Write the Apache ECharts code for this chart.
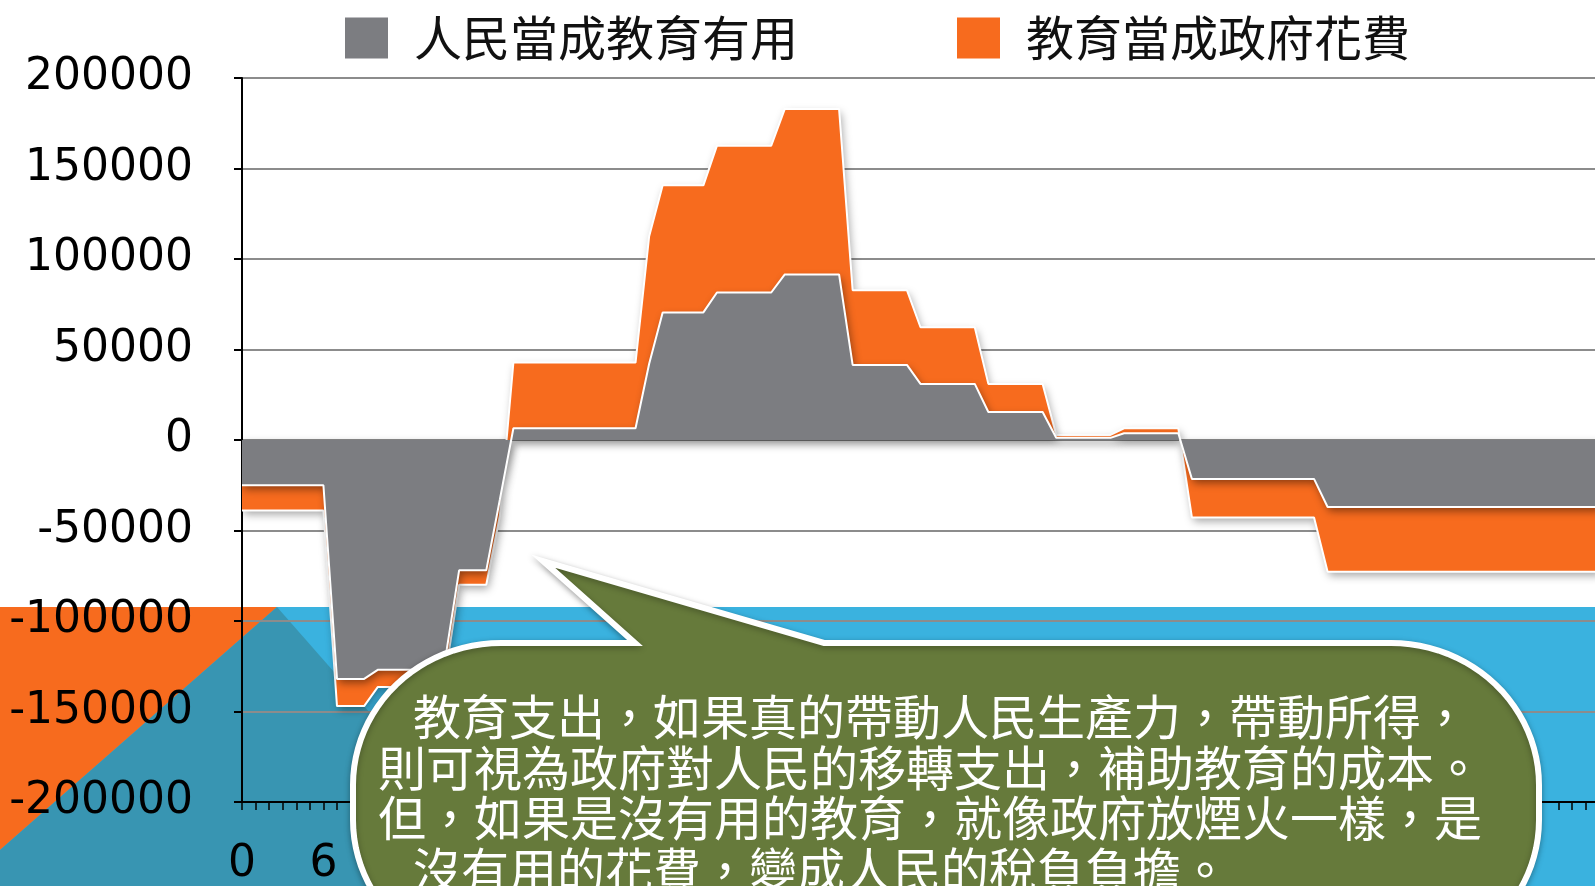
<!DOCTYPE html>
<html>
<head>
<meta charset="utf-8">
<script src="https://cdn.jsdelivr.net/npm/echarts@6/dist/echarts.min.js"></script>
<style>
html,body{margin:0;padding:0;background:#fff;}
#c{width:1595px;height:886px;}
</style>
</head>
<body>
<div id="c"></div>
<script>
// ---- data ----
const ages = ['0','1','2','3','4','5','6','7','8','9','10','11','12','13','14','15','16','17','18','19','20',
  '21','22','23','24','25','26','27','28','29','30','31','32','33','34','35','36','37','38','39','40',
  '41','42','43','44','45','46','47','48','49','50','51','52','53','54','55','56','57','58','59','60',
  '61','62','63','64','65','66','67','68','69','70','71','72','73','74','75','76','77','78','79','80',
  '81','82','83','84','85','86','87','88','89','90','91','92','93','94','95','96','97','98','99','100'];

const seriesNames = ['人民當成教育有用', '教育當成政府花費'];

// 人民當成教育有用 (ages 0..100)
const usefulValues = [
  -25000,-25000,-25000,-25000,-25000,-25000,-25000,
  -132000,-132000,-132000,
  -127000,-127000,-127000,-127000,-127000,
  -120000,
  -72000,-72000,-72000,
  -33000,
  6500,6500,6500,6500,6500,6500,6500,6500,6500,6500,
  42000,
  70500,70500,70500,70500,
  81500,81500,81500,81500,81500,
  91500,91500,91500,91500,91500,
  41500,41500,41500,41500,41500,
  31000,31000,31000,31000,31000,
  15500,15500,15500,15500,15500,
  1200,1200,1200,1200,1200,
  3700,3700,3700,3700,3700,
  -21500,-21500,-21500,-21500,-21500,-21500,-21500,-21500,-21500,-21500,
  -37000,-37000,-37000,-37000,-37000,-37000,-37000,-37000,-37000,-37000,-37000,
  -37000,-37000,-37000,-37000,-37000,-37000,-37000,-37000,-37000,-37000
];

// 教育當成政府花費 (ages 0..100)
const spendingValues = [
  -14000,-14000,-14000,-14000,-14000,-14000,-14000,
  -15000,-15000,-15000,
  -9500,-9500,-9500,-9500,-9500,
  -9000,
  -8000,-8000,-8000,
  -9000,
  36300,36300,36300,36300,36300,36300,36300,36300,36300,36300,
  70400,
  70200,70200,70200,70200,
  81100,81100,81100,81100,81100,
  91400,91400,91400,91400,91400,
  41300,41300,41300,41300,41300,
  31300,31300,31300,31300,31300,
  15500,15500,15500,15500,15500,
  1600,1600,1600,1600,1600,
  2800,2800,2800,2800,2800,
  -21300,-21300,-21300,-21300,-21300,-21300,-21300,-21300,-21300,-21300,
  -35800,-35800,-35800,-35800,-35800,-35800,-35800,-35800,-35800,-35800,-35800,
  -35800,-35800,-35800,-35800,-35800,-35800,-35800,-35800,-35800,-35800
];

const noteLines = [
  '教育支出，如果真的帶動人民生產力，帶動所得，',
  '則可視為政府對人民的移轉支出，補助教育的成本。',
  '但，如果是沒有用的教育，就像政府放煙火一樣，是',
  '沒有用的花費，變成人民的稅負負擔。'
];

// ---- styling ----
const GRAY = '#7c7d81';
const ORANGE = '#f76b1e';
const BLUE = '#3ab2df';
const TEAL = '#3895b2';
const GREEN = '#667a3b';

function bubblePoints() {
  const L = 353, R = 1539, T = 643, B = 962, rx = 148, ry = 142;
  const pts = [[635, T], [543, 561], [824, T]];
  const arc = (cx, cy, a0, a1) => {
    for (let i = 0; i <= 24; i++) {
      const a = a0 + (a1 - a0) * i / 24;
      pts.push([cx + rx * Math.cos(a), cy + ry * Math.sin(a)]);
    }
  };
  arc(R - rx, T + ry, -Math.PI / 2, 0);
  arc(R - rx, B - ry, 0, Math.PI / 2);
  arc(L + rx, B - ry, Math.PI / 2, Math.PI);
  arc(L + rx, T + ry, Math.PI, 1.5 * Math.PI);
  return pts;
}

const noteX = [413, 378, 378, 413];
const noteY = [717, 768, 818, 870];
const noteText = noteLines.map((t, i) => ({
  type: 'text', z: 101, silent: true,
  style: {
    text: t, x: noteX[i], y: noteY[i], fill: '#fff',
    fontSize: 48, fontFamily: '"Noto Sans CJK TC"', verticalAlign: 'middle', align: 'left'
  }
}));

const chart = echarts.init(document.getElementById('c'), null, {renderer: 'canvas'});
chart.setOption({
  animation: false,
  backgroundColor: '#fff',
  grid: {left: 242, top: 78, right: -4, bottom: 84, containLabel: false, outerBoundsMode: 'none'},
  legend: {
    left: 340, top: 9,
    itemWidth: 43, itemHeight: 41, itemGap: 159,
    icon: 'rect',
    itemStyle: {borderWidth: 0},
    textStyle: {fontSize: 48, fontFamily: '"Noto Sans CJK TC"', color: '#111', padding: [0, 0, 0, 21]},
    data: [
      {name: seriesNames[0], itemStyle: {color: GRAY, borderWidth: 0}},
      {name: seriesNames[1], itemStyle: {color: ORANGE, borderWidth: 0}}
    ]
  },
  xAxis: {
    type: 'category', data: ages, boundaryGap: false,
    axisLine: {onZero: false, lineStyle: {color: '#000', width: 2}},
    axisTick: {show: true, interval: 0, length: 8, lineStyle: {color: '#000', width: 1.5}},
    axisLabel: {interval: 5, showMaxLabel: false, color: '#000', fontSize: 44, fontFamily: '"DejaVu Sans"', margin: 41},
    splitLine: {show: false}
  },
  yAxis: {
    type: 'value', min: -200000, max: 200000, interval: 50000,
    axisLine: {show: true, lineStyle: {color: '#000', width: 2}},
    axisTick: {show: true, length: 8, lineStyle: {color: '#000', width: 2}},
    axisLabel: {color: '#000', fontSize: 44, fontFamily: '"DejaVu Sans"', margin: 49, padding: [6, 0, 0, 0],
      formatter: function (v) { return String(v); }},
    splitLine: {show: true, lineStyle: {color: '#8c8c8c', width: 2}}
  },
  series: [
    {
      name: seriesNames[0], type: 'line', stack: 'total', data: usefulValues,
      symbol: 'none', z: 3,
      lineStyle: {color: '#fff', width: 2},
      itemStyle: {color: GRAY},
      areaStyle: {color: GRAY, opacity: 1, shadowColor: 'rgba(0,0,0,0.45)', shadowBlur: 8, shadowOffsetX: 2, shadowOffsetY: 4},
      emphasis: {disabled: true}
    },
    {
      name: seriesNames[1], type: 'line', stack: 'total', data: spendingValues,
      symbol: 'none', z: 2,
      lineStyle: {color: '#fff', width: 2},
      itemStyle: {color: ORANGE},
      areaStyle: {color: ORANGE, opacity: 1, shadowColor: 'rgba(0,0,0,0.35)', shadowBlur: 8, shadowOffsetX: 2, shadowOffsetY: 4},
      emphasis: {disabled: true}
    }
  ],
  graphic: [
    {type: 'rect', z: -10, silent: true, shape: {x: 0, y: 607, width: 1595, height: 279}, style: {fill: BLUE}},
    {type: 'polygon', z: -9, silent: true, shape: {points: [[0, 607], [277, 607], [0, 850]]}, style: {fill: ORANGE}},
    {type: 'polygon', z: -9, silent: true, shape: {points: [[277, 607], [522, 886], [0, 886], [0, 850]]}, style: {fill: TEAL}},
    {type: 'polygon', z: 100, silent: true, shape: {points: bubblePoints()},
      style: {fill: GREEN, stroke: '#fff', lineWidth: 6, lineJoin: 'miter', shadowColor: 'rgba(0,0,0,0.3)', shadowBlur: 6, shadowOffsetY: 2}},
    ...noteText
  ]
});
</script>
</body>
</html>
